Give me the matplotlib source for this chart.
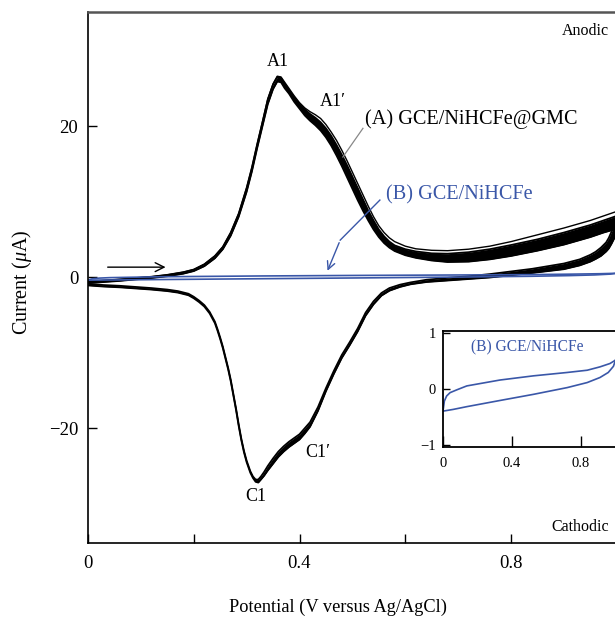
import numpy as np
import matplotlib
matplotlib.use('Agg')
import matplotlib.pyplot as plt

plt.rcParams['font.family'] = ['Liberation Serif', 'DejaVu Serif']
plt.rcParams['mathtext.fontset'] = 'custom'
plt.rcParams['mathtext.it'] = 'Liberation Serif:italic'
plt.rcParams['mathtext.rm'] = 'Liberation Serif'

# ---------------- data ----------------
# Curve A (GCE/NiHCFe@GMC), anodic (forward) sweep
V_fwd = [0.00, 0.03, 0.06, 0.09, 0.12, 0.15, 0.18, 0.20, 0.22, 0.24, 0.255, 0.27,
         0.285, 0.30, 0.31, 0.32, 0.33, 0.34, 0.35, 0.358, 0.365, 0.372, 0.38, 0.39,
         0.40, 0.41, 0.42, 0.43, 0.44, 0.45, 0.46, 0.47, 0.48, 0.49, 0.50, 0.51,
         0.52, 0.53, 0.54, 0.55, 0.56, 0.57, 0.58, 0.60, 0.62, 0.65, 0.68, 0.72,
         0.76, 0.80, 0.85, 0.90, 0.95, 0.975, 1.00]
# first (outermost) cycle
I_fwd_outer = [-0.6, -0.45, -0.3, -0.12, 0.05, 0.3, 0.65, 1.0, 1.7, 2.8, 4.0, 5.9,
               8.4, 11.8, 14.5, 17.6, 20.6, 23.6, 25.6, 26.6, 26.5, 25.8, 25.0, 24.0,
               23.1, 22.4, 21.9, 21.5, 21.0, 20.2, 19.2, 18.1, 16.8, 15.4, 13.9, 12.4,
               10.9, 9.4, 8.0, 6.8, 5.9, 5.2, 4.7, 4.1, 3.75, 3.55, 3.5, 3.7,
               4.1, 4.7, 5.6, 6.5, 7.5, 8.1, 8.7]
# upper edge of the bundle of later cycles
I_fwd_hi = [-0.6, -0.45, -0.3, -0.12, 0.05, 0.3, 0.65, 1.0, 1.7, 2.8, 4.0, 5.9,
            8.4, 11.8, 14.5, 17.6, 20.5, 23.5, 25.5, 26.5, 26.4, 25.6, 24.8, 23.8,
            22.9, 22.2, 21.6, 21.1, 20.5, 19.7, 18.7, 17.5, 16.2, 14.8, 13.3, 11.8,
            10.3, 8.8, 7.5, 6.3, 5.4, 4.7, 4.2, 3.7, 3.4, 3.15, 3.1, 3.3,
            3.7, 4.25, 5.0, 5.9, 6.9, 7.5, 8.1]
# lower edge of the bundle of later cycles
I_fwd_lo = [-0.8, -0.65, -0.5, -0.3, -0.12, 0.12, 0.45, 0.8, 1.45, 2.5, 3.7, 5.5,
            8.0, 11.3, 14.0, 17.1, 20.0, 22.9, 24.9, 25.9, 25.8, 25.0, 24.3, 23.2,
            22.3, 21.4, 20.7, 20.1, 19.4, 18.5, 17.4, 16.1, 14.7, 13.2, 11.7, 10.2,
            8.8, 7.5, 6.3, 5.3, 4.5, 3.9, 3.45, 2.9, 2.55, 2.2, 2.0, 2.05,
            2.35, 2.8, 3.5, 4.3, 5.3, 5.9, 6.4]

# Curve A, cathodic (reverse) sweep
V_rev = [1.00, 0.995, 0.99, 0.985, 0.98, 0.97, 0.96, 0.95, 0.93, 0.90, 0.87, 0.84,
         0.80, 0.76, 0.72, 0.68, 0.64, 0.61, 0.59, 0.57, 0.555, 0.54, 0.525, 0.51,
         0.495, 0.48, 0.465, 0.45, 0.435, 0.42, 0.41, 0.40, 0.39, 0.38, 0.37, 0.36,
         0.35, 0.34, 0.333, 0.327, 0.322, 0.317, 0.312, 0.307, 0.30, 0.295, 0.29, 0.285,
         0.28, 0.275, 0.27, 0.265, 0.26, 0.255, 0.25, 0.245, 0.24, 0.23, 0.22, 0.21,
         0.20, 0.19, 0.17, 0.15, 0.12, 0.09, 0.06, 0.03, 0.00]
I_rev_hi = [8.7, 7.0, 6.0, 5.2, 4.6, 3.9, 3.35, 2.95, 2.35, 1.8, 1.45, 1.1,
            0.75, 0.4, 0.12, -0.1, -0.35, -0.7, -1.0, -1.45, -2.1, -3.2, -4.7, -6.8,
            -8.6, -10.3, -12.4, -14.7, -17.2, -19.2, -20.0, -20.8, -21.3, -21.8, -22.4, -23.1,
            -24.0, -25.0, -25.8, -26.4, -26.8, -26.8, -26.4, -25.7, -24.3, -23.0, -21.4, -19.5,
            -17.4, -15.5, -13.6, -12.0, -10.6, -9.2, -8.0, -6.9, -5.9, -4.6, -3.7, -3.1,
            -2.6, -2.2, -1.85, -1.65, -1.45, -1.3, -1.15, -1.05, -0.9]
I_rev_lo = [6.4, 5.1, 4.4, 3.8, 3.4, 2.8, 2.4, 2.05, 1.55, 1.05, 0.8, 0.55,
            0.25, -0.05, -0.25, -0.45, -0.65, -0.95, -1.3, -1.8, -2.45, -3.6, -5.1, -7.2,
            -9.0, -10.7, -12.8, -15.1, -17.7, -19.8, -20.7, -21.5, -22.0, -22.5, -23.1, -23.8,
            -24.7, -25.6, -26.3, -26.8, -27.2, -27.1, -26.6, -25.9, -24.5, -23.2, -21.6, -19.7,
            -17.6, -15.7, -13.8, -12.2, -10.8, -9.4, -8.2, -7.1, -6.1, -4.8, -3.9, -3.3,
            -2.8, -2.4, -2.05, -1.85, -1.65, -1.5, -1.35, -1.25, -1.1]

# Curve B (GCE/NiHCFe)
VB_upper = [0.0, 0.008, 0.021, 0.041, 0.08, 0.138, 0.33, 0.525, 0.72, 0.836, 0.91, 0.968, 1.0]
IB_upper = [-0.40, -0.22, -0.13, -0.07, -0.02, 0.05, 0.155, 0.23, 0.29, 0.33, 0.39, 0.45, 0.51]
VB_lower = [0.0, 0.058, 0.138, 0.33, 0.525, 0.72, 0.836, 0.91, 0.958, 0.988, 1.0]
IB_lower = [-0.40, -0.37, -0.32, -0.21, -0.10, 0.02, 0.11, 0.20, 0.29, 0.40, 0.51]

x_major = [0, 0.4, 0.8]
x_all = [0, 0.2, 0.4, 0.6, 0.8]
y_ticks = [-20, 0, 20]
inset_xticks = [0, 0.4, 0.8]
inset_yticks = [-1, 0, 1]

BLUE = '#3a57a8'

# ---------------- figure ----------------
W, H = 615, 617
fig = plt.figure(figsize=(W / 100, H / 100), dpi=100)
ax = fig.add_axes([88 / W, (H - 543) / H, 528.75 / W, 531 / H])

ax.fill_between(V_fwd, I_fwd_lo, I_fwd_hi, color='black', lw=0)
ax.plot(V_fwd, I_fwd_hi, color='black', lw=1.3)
ax.plot(V_fwd, I_fwd_lo, color='black', lw=1.3)
ax.plot(V_fwd, I_fwd_outer, color='black', lw=1.0)
ax.fill_between(V_rev, I_rev_lo, I_rev_hi, color='black', lw=0)
ax.plot(V_rev, I_rev_hi, color='black', lw=1.3)
ax.plot(V_rev, I_rev_lo, color='black', lw=1.3)

ax.plot(VB_upper, IB_upper, color=BLUE, lw=1.2)
ax.plot(VB_lower, IB_lower, color=BLUE, lw=1.2)

ax.set_xlim(0, 1.0)
ax.set_ylim(-35.2, 35.1)
ax.set_xticks(x_all)
ax.set_xticklabels(['0' if v == 0 else (f'{v:g}' if v in x_major else '') for v in x_all])
ax.set_yticks(y_ticks)
ax.set_yticklabels(['\u221220', '0', '20'])
ax.tick_params(axis='both', direction='in', length=6.5, width=1.0, labelsize=13.5)
ax.tick_params(axis='x', pad=9)
ax.tick_params(axis='y', pad=7)
ax.spines['right'].set_visible(False)
ax.spines['top'].set_color('#555555')
ax.spines['top'].set_linewidth(1.8)
ax.spines['left'].set_linewidth(1.2)
ax.spines['bottom'].set_linewidth(1.2)

fig.text(21.5 / W, 1 - 282 / H, 'Current ($\\mu$A)', rotation=90, ha='center', va='center', fontsize=14.5)
fig.text(338 / W, 1 - 607 / H, 'Potential (V versus Ag/AgCl)', ha='center', va='center', fontsize=13.2)

# annotations
ax.text(0.359, 28.6, 'A1', ha='center', va='center', fontsize=13)
ax.text(0.463, 23.3, 'A1\u2032', ha='center', va='center', fontsize=13)
ax.text(0.318, -29.1, 'C1', ha='center', va='center', fontsize=13)
ax.text(0.435, -23.2, 'C1\u2032', ha='center', va='center', fontsize=13)
ax.text(0.524, 20.9, '(A) GCE/NiHCFe@GMC', ha='left', va='center', fontsize=14.6)
ax.plot([0.52, 0.482], [19.7, 15.9], color='#888888', lw=0.9)
ax.text(0.5636, 10.9, '(B) GCE/NiHCFe', ha='left', va='center', fontsize=14.6, color=BLUE)
ax.plot([0.552, 0.477], [10.2, 4.9], color=BLUE, lw=1.0)
ax.annotate('', xy=(0.451, 0.5), xytext=(0.477, 4.9),
            arrowprops=dict(arrowstyle='->', color=BLUE, lw=1.0, mutation_scale=14))
ax.annotate('', xy=(0.152, 1.32), xytext=(0.032, 1.32),
            arrowprops=dict(arrowstyle='->', color='black', lw=1.0, mutation_scale=16))
ax.text(0.985, 32.6, 'Anodic', ha='right', va='center', fontsize=11.5)
ax.text(0.985, -33.1, 'Cathodic', ha='right', va='center', fontsize=11.5)

# ---------------- inset ----------------
ins = fig.add_axes([443 / W, (H - 447) / H, 172.5 / W, 116 / H])
ins.plot(VB_upper, IB_upper, color=BLUE, lw=1.2)
ins.plot(VB_lower, IB_lower, color=BLUE, lw=1.2)
ins.set_xlim(0, 1.0)
ins.set_ylim(-1.04, 1.03)
ins.set_xticks(inset_xticks)
ins.set_xticklabels(['0', '0.4', '0.8'])
ins.set_yticks(inset_yticks)
ins.set_yticklabels(['\u22121', '0', '1'])
ins.tick_params(axis='x', direction='in', length=8, width=1.0, labelsize=10.5, pad=7)
ins.tick_params(axis='y', direction='in', length=5, width=1.0, labelsize=10.5, pad=5)
ins.spines['right'].set_visible(False)
for s in ['top', 'left', 'bottom']:
    ins.spines[s].set_linewidth(1.3)
ins.text(0.49, 0.74, '(B) GCE/NiHCFe', ha='center', va='center', fontsize=11.2, color=BLUE)

fig.savefig('out.png', dpi=100)
